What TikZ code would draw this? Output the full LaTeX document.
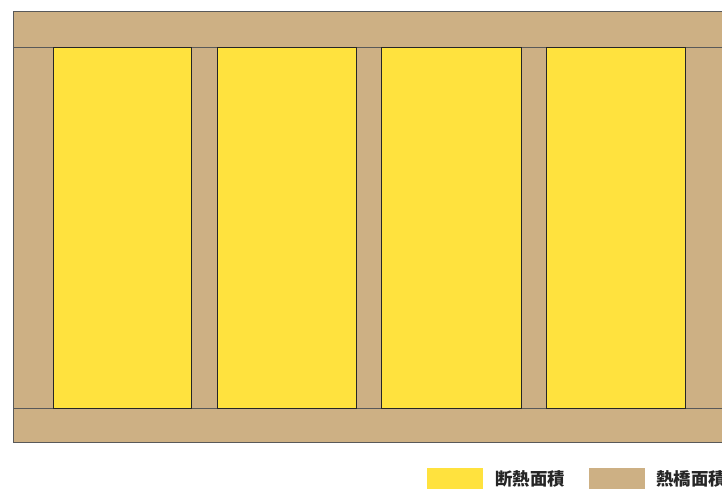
\documentclass[tikz,border=0pt]{standalone}
\usepackage{fontspec}
\newfontfamily\cjk{Noto Sans CJK JP}
\definecolor{insul}{RGB}{255,226,62}
\definecolor{bridge}{RGB}{205,176,132}
\tikzset{
    x=1pt, y=-1pt, % one unit per pixel of the reference
    }

\begin{document}
\begin{tikzpicture}[
woodpart/.style={fill=bridge, draw=black!65, thick},
fillpart/.style={fill=insul, draw=black!85, semithick},
keybox/.style={rectangle, minimum width=56pt, minimum height=24pt, inner sep=0pt},
keytext/.style={font=\cjk\bfseries\fontsize{17.4}{17.4}\selectfont, text=black!85, anchor=west, inner sep=0pt},
]
\useasboundingbox (0,0) rectangle (722,488);
\clip (0,0) rectangle (722,488);

% frame: top and bottom plates, studs
\draw[woodpart] (13,11) rectangle (730,47);
\draw[woodpart] (13,408) rectangle (730,442);
\foreach \a/\b in {13/53, 191/217, 356/381, 521/546, 685/730}
    \draw[woodpart] (\a,47) rectangle (\b,408);

% insulation between studs
\foreach \a/\b in {53/191, 217/356, 381/521, 546/685}
    \draw[fillpart] (\a,47) rectangle (\b,408);

% legend
\node[keybox, fill=insul] (keyins) at (455,480) {};
\node[keytext] (txtins) at (495,479) {断熱面積};
\node[keybox, fill=bridge] (keybrg) at (617,480) {};
\node[keytext] (txtbrg) at (656,479) {熱橋面積};

\end{tikzpicture}
\end{document}
